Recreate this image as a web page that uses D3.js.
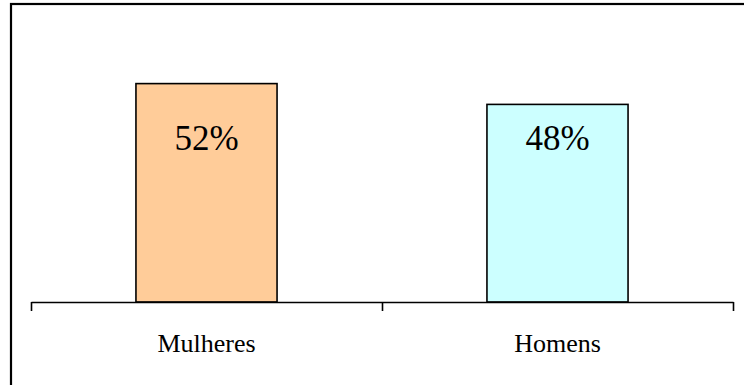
<!DOCTYPE html>
<html>
<head>
<meta charset="utf-8">
<script src="https://cdn.jsdelivr.net/npm/d3@7"></script>
<style>
  html, body { margin: 0; padding: 0; background: #fff; }
  svg { display: block; }
  text { font-family: "Liberation Serif", "Times New Roman", serif; fill: #000; }
</style>
</head>
<body>
<svg id="chart" width="744" height="385"></svg>
<script>
// Share by sex
const categories = ["Mulheres", "Homens"];
const values = [0.52, 0.48];
const colors = ["#FFCC99", "#CCFFFF"];

const W = 744, H = 385;
const plot = { left: 31, right: 733, top: 42, bottom: 302 };

const svg = d3.select("#chart");

// outer frame
svg.append("rect")
  .attr("x", 11).attr("y", 4)
  .attr("width", 800).attr("height", 500)
  .attr("fill", "none")
  .attr("stroke", "#000")
  .attr("stroke-width", 2.2);

const x = d3.scaleBand()
  .domain(categories)
  .range([plot.left, plot.right])
  .paddingInner(0.598)
  .paddingOuter(0.299);

const y = d3.scaleLinear()
  .domain([0.1, 0.6])
  .range([plot.bottom, plot.top]);

// bars
svg.append("g").selectAll("rect")
  .data(categories)
  .join("rect")
  .attr("x", (d) => x(d))
  .attr("y", (d, i) => y(values[i]))
  .attr("width", x.bandwidth())
  .attr("height", (d, i) => plot.bottom - y(values[i]))
  .attr("fill", (d, i) => colors[i])
  .attr("stroke", "#000")
  .attr("stroke-width", 1.6);

// value labels
const fmt = d3.format(".0%");
svg.append("g").selectAll("text")
  .data(categories)
  .join("text")
  .attr("x", (d) => x(d) + x.bandwidth() / 2)
  .attr("y", 150)
  .attr("text-anchor", "middle")
  .attr("font-size", 35)
  .text((d, i) => fmt(values[i]));

// category axis with ticks at band boundaries
const edges = d3.scaleLinear()
  .domain([0, categories.length])
  .range([plot.left, plot.right]);

const axis = svg.append("g")
  .attr("transform", `translate(0,${plot.bottom})`)
  .call(d3.axisBottom(edges)
    .tickValues(d3.range(categories.length + 1))
    .tickSize(9)
    .tickSizeOuter(0)
    .tickFormat(""));
axis.selectAll("path, line").attr("stroke", "#000").attr("stroke-width", 1.6);

svg.append("g").selectAll("text")
  .data(categories)
  .join("text")
  .attr("x", (d) => x(d) + x.bandwidth() / 2)
  .attr("y", 352)
  .attr("text-anchor", "middle")
  .attr("font-size", 26)
  .text((d) => d);
</script>
</body>
</html>
